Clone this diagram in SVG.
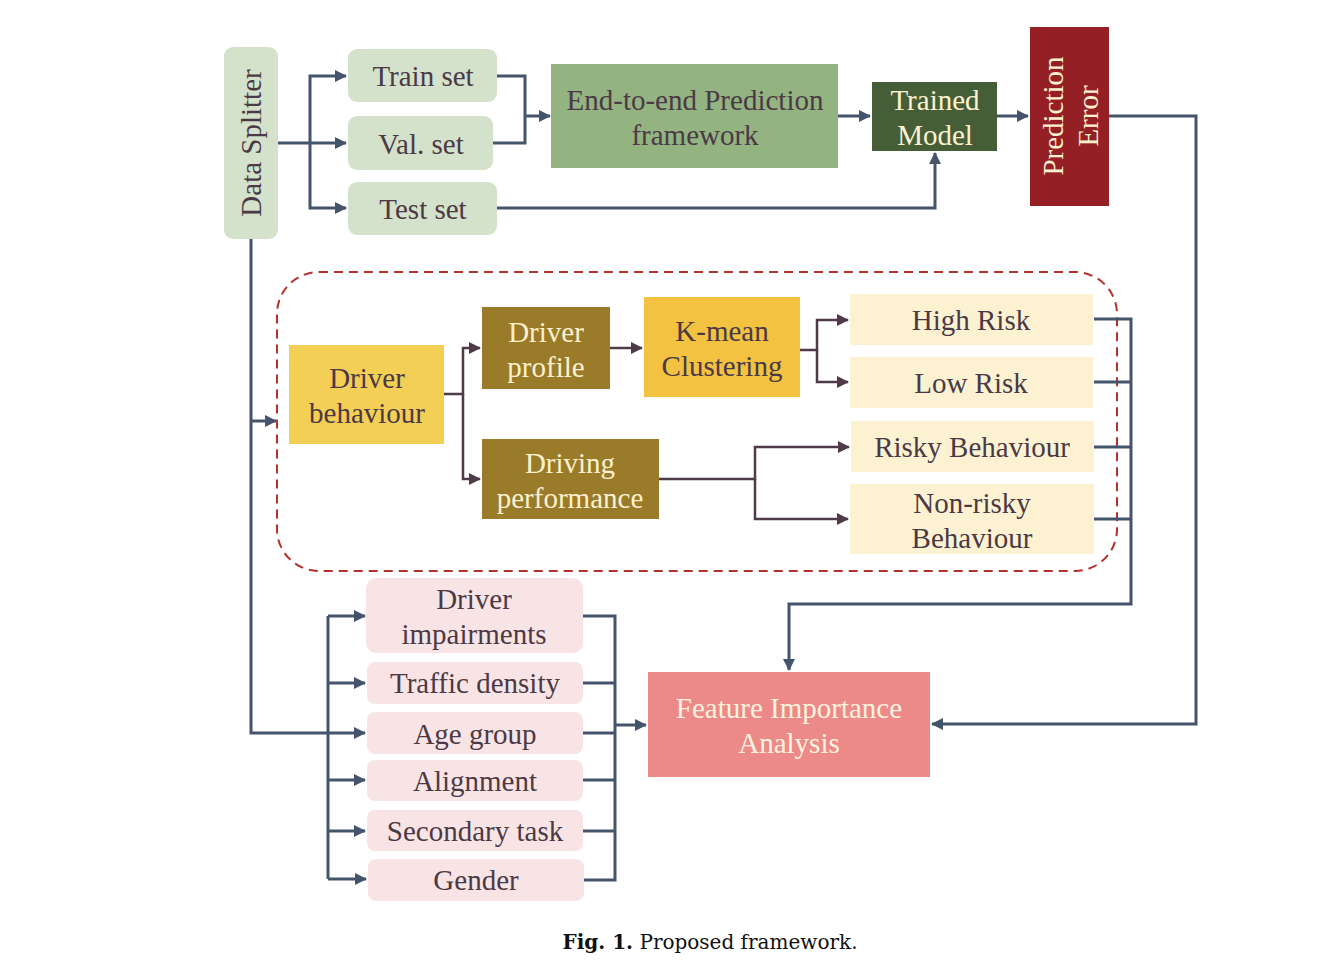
<svg xmlns="http://www.w3.org/2000/svg" width="1341" height="963" viewBox="0 0 1341 963">
<style>
  text { font-family: "Liberation Serif", "Times New Roman", serif; font-size: 29px; text-anchor: middle; }
  .dk { fill: #4b3a46; }
  .lt { fill: #fbf1cf; }
  .wh { fill: #fdf3de; }
  .c { fill: none; stroke: #44546a; stroke-width: 3; }
  .p { fill: none; stroke: #4e3b47; stroke-width: 2.5; }
  .sg { fill: #d4e1cb; }
  .pk { fill: #f9e4e5; }
  .cr { fill: #fcf2d2; }
</style>
<defs>
  <marker id="ab" markerUnits="userSpaceOnUse" markerWidth="12" markerHeight="12" refX="11" refY="6" orient="auto">
    <path d="M0,0 L12,6 L0,12 z" fill="#44546a"/>
  </marker>
  <marker id="ap" markerUnits="userSpaceOnUse" markerWidth="12" markerHeight="12" refX="11" refY="6" orient="auto">
    <path d="M0,0 L12,6 L0,12 z" fill="#4e3b47"/>
  </marker>
</defs>
<rect width="1341" height="963" fill="#ffffff"/>

<rect id="dashed-box" x="277" y="272" width="840" height="299" rx="42" fill="none" stroke="#b5312c" stroke-width="2" stroke-dasharray="9,6"/>

<g id="connectors">
  <path class="c" d="M278,143 H346" marker-end="url(#ab)"/>
  <path class="c" d="M310,143 V76 H346" marker-end="url(#ab)"/>
  <path class="c" d="M310,143 V208 H346" marker-end="url(#ab)"/>
  <path class="c" d="M497,76 H525 V143 H493"/>
  <path class="c" d="M525,116 H550" marker-end="url(#ab)"/>
  <path class="c" d="M838,116 H870" marker-end="url(#ab)"/>
  <path class="c" d="M997,116 H1028" marker-end="url(#ab)"/>
  <path class="c" d="M497,208 H935 V153" marker-end="url(#ab)"/>
  <path class="c" d="M1109,116 H1196 V724 H932" marker-end="url(#ab)"/>
  <path class="c" d="M251,239 V733 H365" marker-end="url(#ab)"/>
  <path class="c" d="M251,421 H276" marker-end="url(#ab)"/>

  <path class="p" d="M444,394 H463 V348 H480" marker-end="url(#ap)"/>
  <path class="p" d="M463,394 V479 H480" marker-end="url(#ap)"/>
  <path class="p" d="M610,348 H642" marker-end="url(#ap)"/>
  <path class="p" d="M800,350 H817 V320 H848" marker-end="url(#ap)"/>
  <path class="p" d="M817,350 V382 H848" marker-end="url(#ap)"/>
  <path class="p" d="M659,479 H755 V447 H849" marker-end="url(#ap)"/>
  <path class="p" d="M755,479 V519 H848" marker-end="url(#ap)"/>

  <path class="c" d="M1094,319 H1131 V604 H789 V670" marker-end="url(#ab)"/>
  <path class="c" d="M1094,382 H1131"/>
  <path class="c" d="M1094,447 H1131"/>
  <path class="c" d="M1094,519 H1131"/>

  <path class="c" d="M328,616 V879"/>
  <path class="c" d="M328,616 H365" marker-end="url(#ab)"/>
  <path class="c" d="M328,683 H365" marker-end="url(#ab)"/>
  <path class="c" d="M328,780 H365" marker-end="url(#ab)"/>
  <path class="c" d="M328,831 H365" marker-end="url(#ab)"/>
  <path class="c" d="M328,879 H366" marker-end="url(#ab)"/>
  <path class="c" d="M583,616 H615 V880 H584"/>
  <path class="c" d="M583,683 H615"/>
  <path class="c" d="M583,733 H615"/>
  <path class="c" d="M583,780 H615"/>
  <path class="c" d="M583,831 H615"/>
  <path class="c" d="M615,725 H646" marker-end="url(#ab)"/>
</g>

<g id="data-splitter">
  <rect class="sg" x="224" y="47" width="54" height="192" rx="9"/>
  <text class="dk" transform="translate(261,143) rotate(-90)">Data Splitter</text>
</g>
<g id="train-set">
  <rect class="sg" x="348" y="49" width="149" height="53" rx="9"/>
  <text class="dk" x="423" y="86">Train set</text>
</g>
<g id="val-set">
  <rect class="sg" x="348" y="116" width="145" height="54" rx="9"/>
  <text class="dk" x="421" y="154">Val. set</text>
</g>
<g id="test-set">
  <rect class="sg" x="348" y="182" width="149" height="53" rx="9"/>
  <text class="dk" x="423" y="219">Test set</text>
</g>
<g id="end-to-end">
  <rect x="551" y="64" width="287" height="104" fill="#93b381"/>
  <text class="dk" x="695" y="110">End-to-end Prediction</text>
  <text class="dk" x="695" y="145">framework</text>
</g>
<g id="trained-model">
  <rect x="872" y="82" width="125" height="69" fill="#455e38"/>
  <text class="lt" x="935" y="110">Trained</text>
  <text class="lt" x="935" y="145">Model</text>
</g>
<g id="prediction-error">
  <rect x="1030" y="27" width="79" height="179" fill="#941f25"/>
  <text class="lt" transform="translate(1063,116) rotate(-90)">Prediction</text>
  <text class="lt" transform="translate(1098,116) rotate(-90)">Error</text>
</g>

<g id="driver-behaviour">
  <rect x="289" y="345" width="155" height="99" fill="#f4cf55"/>
  <text class="dk" x="367" y="388">Driver</text>
  <text class="dk" x="367" y="423">behaviour</text>
</g>
<g id="driver-profile">
  <rect x="482" y="307" width="128" height="82" fill="#9a7b29"/>
  <text class="lt" x="546" y="342">Driver</text>
  <text class="lt" x="546" y="377">profile</text>
</g>
<g id="k-mean">
  <rect x="644" y="297" width="156" height="100" fill="#f2c240"/>
  <text class="dk" x="722" y="341">K-mean</text>
  <text class="dk" x="722" y="376">Clustering</text>
</g>
<g id="driving-performance">
  <rect x="482" y="439" width="177" height="80" fill="#9a7b29"/>
  <text class="lt" x="570" y="473">Driving</text>
  <text class="lt" x="570" y="508">performance</text>
</g>
<g id="high-risk">
  <rect class="cr" x="850" y="294" width="243" height="51"/>
  <text class="dk" x="971" y="330">High Risk</text>
</g>
<g id="low-risk">
  <rect class="cr" x="850" y="357" width="243" height="51"/>
  <text class="dk" x="971" y="393">Low Risk</text>
</g>
<g id="risky-behaviour">
  <rect class="cr" x="851" y="421" width="243" height="51"/>
  <text class="dk" x="972" y="457">Risky Behaviour</text>
</g>
<g id="non-risky-behaviour">
  <rect class="cr" x="850" y="484" width="244" height="70"/>
  <text class="dk" x="972" y="513">Non-risky</text>
  <text class="dk" x="972" y="548">Behaviour</text>
</g>

<g id="driver-impairments">
  <rect class="pk" x="366" y="578" width="217" height="75" rx="10"/>
  <text class="dk" x="474" y="609">Driver</text>
  <text class="dk" x="474" y="644">impairments</text>
</g>
<g id="traffic-density">
  <rect class="pk" x="367" y="662" width="216" height="42" rx="8"/>
  <text class="dk" x="475" y="693">Traffic density</text>
</g>
<g id="age-group">
  <rect class="pk" x="367" y="712" width="216" height="42" rx="8"/>
  <text class="dk" x="475" y="744">Age group</text>
</g>
<g id="alignment">
  <rect class="pk" x="367" y="760" width="216" height="41" rx="8"/>
  <text class="dk" x="475" y="791">Alignment</text>
</g>
<g id="secondary-task">
  <rect class="pk" x="367" y="810" width="216" height="41" rx="8"/>
  <text class="dk" x="475" y="841">Secondary task</text>
</g>
<g id="gender">
  <rect class="pk" x="368" y="859" width="216" height="42" rx="8"/>
  <text class="dk" x="476" y="890">Gender</text>
</g>

<g id="feature-importance">
  <rect x="648" y="672" width="282" height="105" fill="#ec8a89"/>
  <text class="wh" x="789" y="718">Feature Importance</text>
  <text class="wh" x="789" y="753">Analysis</text>
</g>

<text x="710" y="949" style="font-family:'DejaVu Serif',serif;font-size:20px;fill:#111"><tspan font-weight="bold">Fig. 1.</tspan> Proposed framework.</text>
</svg>
